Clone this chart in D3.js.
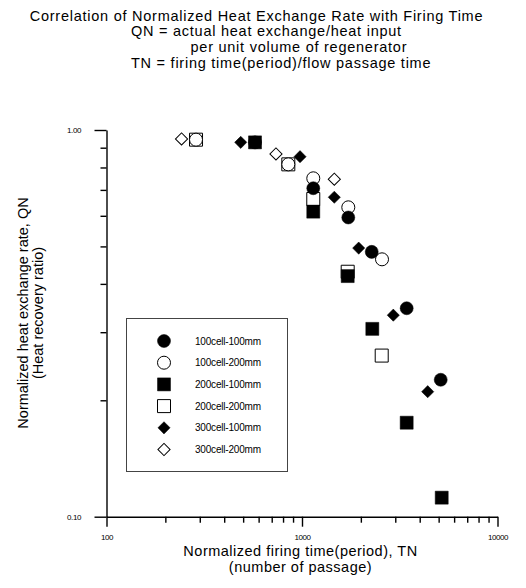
<!DOCTYPE html>
<html>
<head>
<meta charset="utf-8">
<script src="https://cdn.jsdelivr.net/npm/d3@7"></script>
<style>
  body { margin: 0; background: #fff; }
  svg { font-family: "Liberation Sans", Arial, sans-serif; }
</style>
</head>
<body>
<svg id="chart" width="526" height="588"></svg>
<script>
/*** DATA ***/
//series names (legend order)
var seriesNames = ['100cell-100mm', '100cell-200mm', '200cell-100mm', '200cell-200mm', '300cell-100mm', '300cell-200mm'];

//normalized firing time TN
var tn100cell100mm = [575, 1142, 1725, 2273, 3431, 5123];
var tn100cell200mm = [287, 851, 1142, 1725, 2566];
var tn200cell100mm = [575, 1142, 1713, 2289, 3431, 5184];
var tn200cell200mm = [287, 851, 1142, 1713, 2557];
var tn300cell100mm = [486, 977, 1463, 1950, 2931, 4395];
var tn300cell200mm = [242, 736, 1463];

//normalized heat exchange rate QN
var qn100cell100mm = [0.929, 0.707, 0.594, 0.484, 0.346, 0.226];
var qn100cell200mm = [0.944, 0.815, 0.750, 0.631, 0.463];
var qn200cell100mm = [0.929, 0.615, 0.419, 0.306, 0.175, 0.112];
var qn200cell200mm = [0.944, 0.815, 0.663, 0.430, 0.261];
var qn300cell100mm = [0.929, 0.853, 0.670, 0.495, 0.332, 0.2105];
var qn300cell200mm = [0.948, 0.867, 0.746];

//ticks
var xTickValues = [100, 200, 300, 400, 500, 600, 700, 800, 900, 1000, 2000, 3000, 4000, 5000, 6000, 7000, 8000, 9000, 10000];
var xTickLabels = {100: '100', 1000: '1000', 10000: '10000'};
var yTickValues = [0.1, 0.2, 0.3, 0.4, 0.5, 0.6, 0.7, 0.8, 0.9, 1];
var yTickLabels = {0.1: '0.10', 1: '1.00'};

var titleLines = ['Correlation of Normalized Heat Exchange Rate with Firing Time', 'QN = actual heat exchange/heat input', 'per unit volume of regenerator', 'TN = firing time(period)/flow passage time'];

/*** SETUP ***/
var svg = d3.select('#chart');
var plotLeft = 106.5, plotRight = 497.5, plotTop = 130, plotBottom = 516.7;

var x = d3.scaleLog().domain([100, 10000]).range([plotLeft, plotRight]);
var y = d3.scaleLog().domain([0.1, 1]).range([plotBottom, plotTop]);

//marker per series: shape + fill
var markers = [
  {shape: 'circle', filled: true},
  {shape: 'circle', filled: false},
  {shape: 'square', filled: true},
  {shape: 'square', filled: false},
  {shape: 'diamond', filled: true},
  {shape: 'diamond', filled: false}
];
var tnList = [tn100cell100mm, tn100cell200mm, tn200cell100mm, tn200cell200mm, tn300cell100mm, tn300cell200mm];
var qnList = [qn100cell100mm, qn100cell200mm, qn200cell100mm, qn200cell200mm, qn300cell100mm, qn300cell200mm];

function symbolPath(shape) {
  if (shape=='circle') return d3.symbol().type(d3.symbolCircle).size(133)();
  if (shape=='square') return d3.symbol().type(d3.symbolSquare).size(169)();
  return d3.symbol().type(d3.symbolSquare).size(74)();
}

function drawMarker(g, m, px, py) {
  return g.append('path')
    .attr('d', symbolPath(m.shape))
    .attr('transform', 'translate(' + px + ',' + py + ')' + (m.shape=='diamond' ? ' rotate(45)' : ''))
    .attr('fill', m.filled ? '#000' : '#fff')
    .attr('stroke', '#000')
    .attr('stroke-width', m.filled ? 0.5 : 1);
}

/*** TITLE ***/
var titleX = [256.5, 131, 190.5, 131];
var titleY = [20.5, 36, 52, 67.5];
titleLines.forEach(function(t, i) {
  svg.append('text')
    .attr('x', titleX[i]).attr('y', titleY[i])
    .attr('text-anchor', i==0 ? 'middle' : 'start')
    .attr('font-size', 14.5)
    .attr('letter-spacing', 0.75)
    .text(t);
});

/*** AXES ***/
var xAxis = d3.axisBottom(x)
  .tickValues(xTickValues)
  .tickSizeInner(6)
  .tickSizeOuter(0)
  .tickFormat(function(d) { return xTickLabels[d] || ''; });

var gx = svg.append('g').attr('transform', 'translate(0,' + plotBottom + ')').call(xAxis);
gx.selectAll('.tick line').attr('y2', function(d) { return xTickLabels[d] ? 10 : 6; });
gx.selectAll('.tick text').attr('y', 18);

var yAxis = d3.axisLeft(y)
  .tickValues(yTickValues)
  .tickSizeInner(6)
  .tickSizeOuter(0)
  .tickFormat(function(d) { return yTickLabels[d] || ''; });

var gy = svg.append('g').attr('transform', 'translate(' + plotLeft + ',0)').call(yAxis);
gy.selectAll('.tick line').attr('x2', function(d) { return yTickLabels[d] ? -12 : -6; });
gy.selectAll('.tick text').attr('x', -25.5);

svg.selectAll('g.tick text')
  .attr('font-size', 8)
  .attr('letter-spacing', -0.4)
  .attr('fill', '#000');
svg.selectAll('.domain, .tick line').attr('stroke', '#000').attr('stroke-width', 1.4);
svg.selectAll('g[font-family]').attr('font-family', null);

//axis titles
svg.append('text').attr('x', 300.5).attr('y', 555.5).attr('text-anchor', 'middle')
  .attr('font-size', 14.5).attr('letter-spacing', 0.5).text('Normalized firing time(period), TN');
svg.append('text').attr('x', 300.5).attr('y', 571.5).attr('text-anchor', 'middle')
  .attr('font-size', 14.5).attr('letter-spacing', 0.5).text('(number of passage)');

svg.append('text').attr('transform', 'translate(28,313) rotate(-90)').attr('text-anchor', 'middle')
  .attr('font-size', 14.5).text('Normalized heat exchange rate, QN');
svg.append('text').attr('transform', 'translate(43,313) rotate(-90)').attr('text-anchor', 'middle')
  .attr('font-size', 14.5).text('(Heat recovery ratio)');

/*** LEGEND ***/
var legend = svg.append('g');
legend.append('rect')
  .attr('x', 126.5).attr('y', 318.5)
  .attr('width', 161).attr('height', 153)
  .attr('fill', '#fff')
  .attr('stroke', '#444')
  .attr('stroke-width', 1);

seriesNames.forEach(function(name, i) {
  var ly = 341 + i*21.7;
  drawMarker(legend, markers[i], 164, ly);
  legend.append('text')
    .attr('x', 195).attr('y', ly + 3.5)
    .attr('font-size', 10)
    .attr('letter-spacing', -0.2)
    .text(name);
});

/*** POINTS ***/
//open markers first, filled on top
var drawOrder = [5, 3, 1, 4, 2, 0];
var points = svg.append('g');
drawOrder.forEach(function(i) {
  tnList[i].forEach(function(tn, j) {
    drawMarker(points, markers[i], x(tn), y(qnList[i][j]));
  });
});
</script>
</body>
</html>
